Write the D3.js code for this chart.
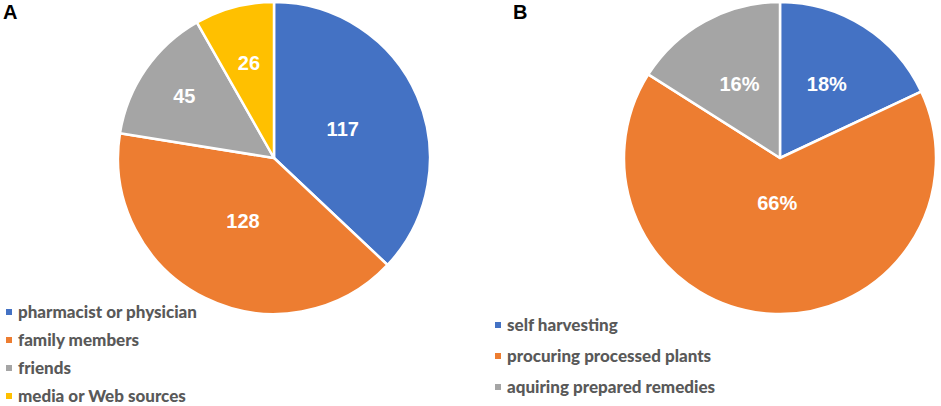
<!DOCTYPE html>
<html>
<head>
<meta charset="utf-8">
<script src="https://cdn.jsdelivr.net/npm/d3@7"></script>
<style>
  body { margin: 0; background: #fff; }
  svg { display: block; }
</style>
</head>
<body>
<svg id="chart" width="941" height="406"></svg>
<script>
// Panel A: source of information (counts)
var sourceNames = ['pharmacist or physician', 'family members', 'friends', 'media or Web sources'];
var sourceCounts = [117, 128, 45, 26];
var sourceColors = ['#4472C4', '#ED7D31', '#A5A5A5', '#FFC000'];
var sourceLabelPos = [0.48, 0.45, 0.70, 0.63]; // fraction of radius (Excel best fit)

// Panel B: way of obtaining (percent)
var obtainNames = ['self harvesting', 'procuring processed plants', 'aquiring prepared remedies'];
var obtainPct = [18, 66, 16];
var obtainColors = ['#4472C4', '#ED7D31', '#A5A5A5'];
var obtainLabelPos = [0.56, 0.29, 0.54];

var svg = d3.select('#chart');
var radius = 156;

function drawPie(opts) {
  var g = svg.append('g')
    .attr('transform', 'translate(' + opts.cx + ',' + opts.cy + ')');

  var pie = d3.pie().sort(null).value(function(d){ return d; });
  var arcs = pie(opts.values);
  var arc = d3.arc().innerRadius(0).outerRadius(radius);

  g.selectAll('path')
    .data(arcs).enter()
    .append('path')
    .attr('d', arc)
    .attr('fill', function(d, i){ return opts.colors[i]; })
    .attr('stroke', '#fff')
    .attr('stroke-width', 2.5)
    .attr('stroke-linejoin', 'round');

  g.selectAll('text.val')
    .data(arcs).enter()
    .append('text')
    .attr('class', 'val')
    .attr('transform', function(d, i){
      var r = radius * opts.labelPos[i];
      var a = d3.arc().innerRadius(r).outerRadius(r);
      return 'translate(' + a.centroid(d) + ')';
    })
    .attr('text-anchor', 'middle')
    .attr('dy', '0.36em')
    .style('font-family', 'Liberation Sans, Arial, sans-serif')
    .style('font-weight', 'bold')
    .style('font-size', '20px')
    .style('fill', '#fff')
    .text(function(d, i){ return opts.format(opts.values[i]); });

  // legend
  var leg = svg.append('g').attr('class', 'legend')
    .selectAll('g')
    .data(opts.names).enter()
    .append('g')
    .attr('transform', function(d, i){
      return 'translate(' + opts.legX + ',' + (opts.legY + i * opts.legStep) + ')';
    });

  leg.append('rect')
    .attr('x', 0)
    .attr('y', -3)
    .attr('width', 6)
    .attr('height', 6)
    .attr('fill', function(d, i){ return opts.colors[i]; });

  leg.append('text')
    .attr('x', 12)
    .attr('dy', '0.33em')
    .style('font-family', 'Lato, Open Sans, sans-serif')
    .style('font-weight', '900')
    .style('font-size', '17px')
    .style('fill', '#595959')
    .text(function(d){ return d; });

  svg.append('text')
    .attr('x', opts.tagX)
    .attr('y', 19)
    .style('font-family', 'Liberation Sans, Arial, sans-serif')
    .style('font-weight', 'bold')
    .style('font-size', '20px')
    .style('fill', '#000')
    .text(opts.tag);
}

drawPie({
  cx: 274, cy: 158,
  values: sourceCounts, colors: sourceColors, names: sourceNames,
  labelPos: sourceLabelPos,
  format: function(v){ return v; },
  legX: 6, legY: 312, legStep: 28,
  tag: 'A', tagX: 3
});

drawPie({
  cx: 780, cy: 158,
  values: obtainPct, colors: obtainColors, names: obtainNames,
  labelPos: obtainLabelPos,
  format: function(v){ return v + '%'; },
  legX: 495, legY: 325, legStep: 31,
  tag: 'B', tagX: 513
});
</script>
</body>
</html>
